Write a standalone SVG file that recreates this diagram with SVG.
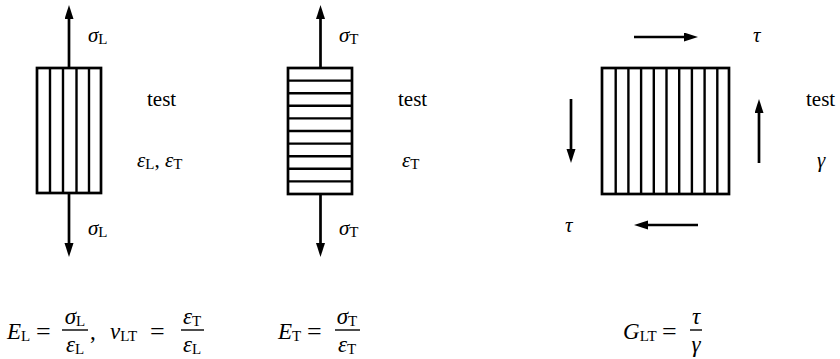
<svg xmlns="http://www.w3.org/2000/svg" width="840" height="359" viewBox="0 0 840 359">
<style>
.ar{stroke:#000;stroke-width:2.7;fill:none;marker-end:url(#ah)}
.bx{stroke:#000;stroke-width:2.7;fill:#fff}
.st{stroke:#000;stroke-width:2.4}
.t{font-family:'Liberation Serif','DejaVu Serif',serif;font-size:21px;fill:#000}
.f{font-size:23px}
.i{font-style:italic}
.s{font-size:15px;font-style:normal}
.eq{font-size:26px;font-style:normal}
.bar{stroke:#000;stroke-width:1.4}
</style>
<defs>
<marker id="ah" markerUnits="userSpaceOnUse" markerWidth="16" markerHeight="10" refX="8" refY="4.5" orient="auto">
<path d="M0,0 L14,4.5 L0,9 z" fill="#000"/>
</marker>
</defs>
<g id="connectors">
<line class="ar" x1="69" y1="68" x2="69" y2="11"/>
<line class="ar" x1="69" y1="193" x2="69" y2="251"/>
<line class="ar" x1="320.5" y1="68" x2="320.5" y2="11"/>
<line class="ar" x1="320.5" y1="194" x2="320.5" y2="251"/>
<line class="ar" x1="634" y1="37" x2="692" y2="37"/>
<line class="ar" x1="698" y1="225" x2="640" y2="225"/>
<line class="ar" x1="571" y1="99" x2="571" y2="157"/>
<line class="ar" x1="759" y1="163" x2="759" y2="105"/>
</g>
<g id="specimen-L" class="t">
<rect class="bx" x="37" y="68" width="64" height="125"/>
<line class="st" x1="50" y1="68" x2="50" y2="193"/>
<line class="st" x1="63" y1="68" x2="63" y2="193"/>
<line class="st" x1="76.5" y1="68" x2="76.5" y2="193"/>
<line class="st" x1="89" y1="68" x2="89" y2="193"/>
<text x="88" y="42" class="i">σ<tspan class="s" dy="2">L</tspan></text>
<text x="147" y="106">test</text>
<text x="137" y="167" class="i">ε<tspan class="s" dy="2">L</tspan><tspan dy="-2" style="font-style:normal">, </tspan>ε<tspan class="s" dy="2">T</tspan></text>
<text x="88" y="235" class="i">σ<tspan class="s" dy="2">L</tspan></text>
</g>
<g id="specimen-T" class="t">
<rect class="bx" x="288" y="68" width="64" height="126"/>
<line class="st" x1="288" y1="80.6" x2="352" y2="80.6"/>
<line class="st" x1="288" y1="93.2" x2="352" y2="93.2"/>
<line class="st" x1="288" y1="105.8" x2="352" y2="105.8"/>
<line class="st" x1="288" y1="118.4" x2="352" y2="118.4"/>
<line class="st" x1="288" y1="131" x2="352" y2="131"/>
<line class="st" x1="288" y1="143.6" x2="352" y2="143.6"/>
<line class="st" x1="288" y1="156.2" x2="352" y2="156.2"/>
<line class="st" x1="288" y1="168.8" x2="352" y2="168.8"/>
<line class="st" x1="288" y1="181.4" x2="352" y2="181.4"/>
<text x="339" y="42" class="i">σ<tspan class="s" dy="2">T</tspan></text>
<text x="398" y="106">test</text>
<text x="402" y="167" class="i">ε<tspan class="s" dy="2">T</tspan></text>
<text x="339" y="235" class="i">σ<tspan class="s" dy="2">T</tspan></text>
</g>
<g id="specimen-shear" class="t">
<rect class="bx" x="602" y="68" width="127" height="126"/>
<line class="st" x1="615.7" y1="68" x2="615.7" y2="194"/>
<line class="st" x1="628.4" y1="68" x2="628.4" y2="194"/>
<line class="st" x1="641.1" y1="68" x2="641.1" y2="194"/>
<line class="st" x1="653.8" y1="68" x2="653.8" y2="194"/>
<line class="st" x1="666.5" y1="68" x2="666.5" y2="194"/>
<line class="st" x1="679.2" y1="68" x2="679.2" y2="194"/>
<line class="st" x1="691.9" y1="68" x2="691.9" y2="194"/>
<line class="st" x1="704.6" y1="68" x2="704.6" y2="194"/>
<line class="st" x1="717.3" y1="68" x2="717.3" y2="194"/>
<text x="753" y="42" class="i">τ</text>
<text x="565" y="232" class="i">τ</text>
<text x="806" y="106">test</text>
<text x="817" y="167" class="i">γ</text>
</g>
<g id="formula-L" class="t f">
<text x="7" y="339" class="i">E<tspan class="s" dy="2">L</tspan></text>
<text x="36" y="340" class="eq">=</text>
<text x="75" y="324" class="i" text-anchor="middle">σ<tspan class="s" dy="2">L</tspan></text>
<line class="bar" x1="62" y1="330" x2="88" y2="330"/>
<text x="75" y="352" class="i" text-anchor="middle">ε<tspan class="s" dy="2">L</tspan></text>
<text x="90" y="339">,</text>
<text x="110" y="339" class="i">ν<tspan class="s" dy="2">LT</tspan></text>
<text x="150" y="340" class="eq">=</text>
<text x="192" y="324" class="i" text-anchor="middle">ε<tspan class="s" dy="2">T</tspan></text>
<line class="bar" x1="181" y1="330" x2="204" y2="330"/>
<text x="192" y="352" class="i" text-anchor="middle">ε<tspan class="s" dy="2">L</tspan></text>
</g>
<g id="formula-T" class="t f">
<text x="278" y="339" class="i">E<tspan class="s" dy="2">T</tspan></text>
<text x="307" y="340" class="eq">=</text>
<text x="347" y="324" class="i" text-anchor="middle">σ<tspan class="s" dy="2">T</tspan></text>
<line class="bar" x1="335" y1="330" x2="360" y2="330"/>
<text x="347" y="352" class="i" text-anchor="middle">ε<tspan class="s" dy="2">T</tspan></text>
</g>
<g id="formula-G" class="t f">
<text x="623" y="339" class="i">G<tspan class="s" dy="2">LT</tspan></text>
<text x="662" y="340" class="eq">=</text>
<text x="696" y="324" class="i" text-anchor="middle">τ</text>
<line class="bar" x1="690" y1="330" x2="702" y2="330"/>
<text x="696" y="352" class="i" text-anchor="middle">γ</text>
</g>
</svg>
